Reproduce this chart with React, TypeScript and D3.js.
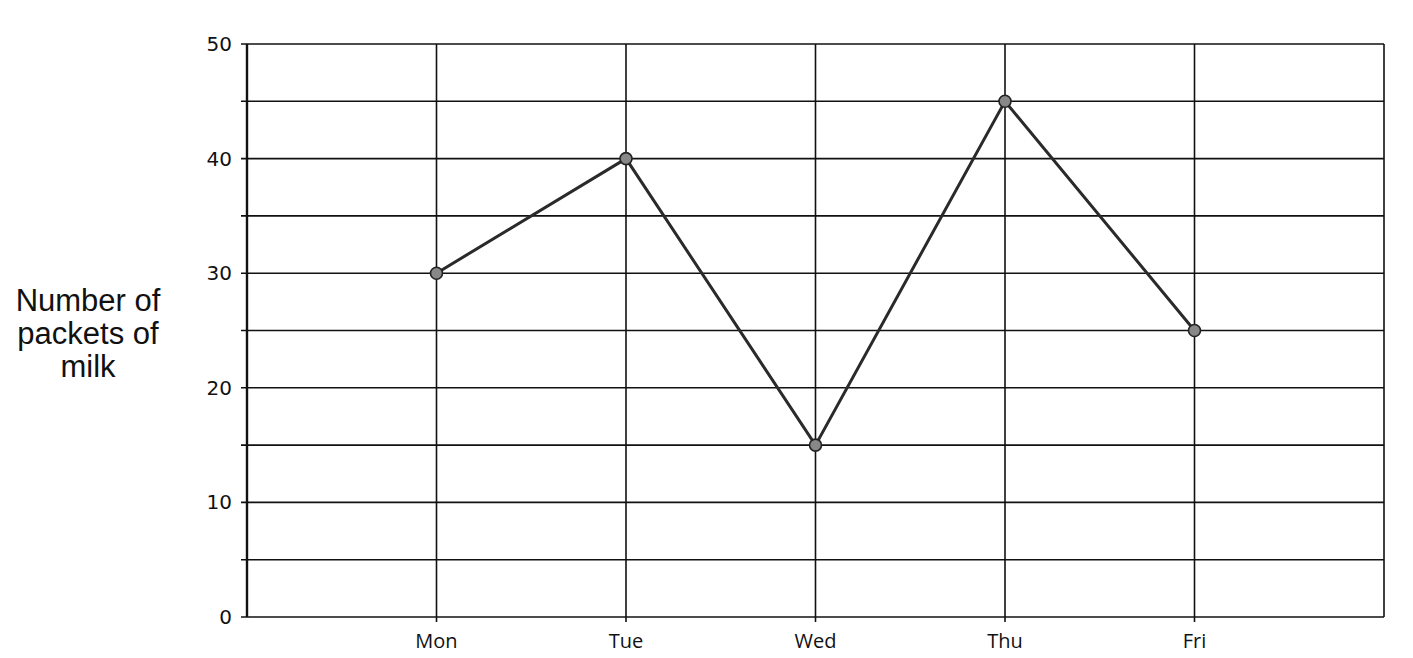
import React, { useEffect, useRef } from "react";
import * as d3 from "d3";

const days = ["Mon", "Tue", "Wed", "Thu", "Fri"];
const packets = [30, 40, 15, 45, 25];
const yTicks = [0, 10, 20, 30, 40, 50];
const titleLines = ["Number of", "packets of", "milk"];

const W = 1413;
const H = 658;
const margin = { top: 44, right: 29, bottom: 41, left: 247 };

export default function App() {
  const ref = useRef<SVGSVGElement>(null);

  useEffect(() => {
    const svg = d3.select(ref.current);
    svg.selectAll("*").remove();
    const w = W - margin.left - margin.right;
    const h = H - margin.top - margin.bottom;

    // categories sit at 1..5 on a 0..6 axis
    const x = d3.scaleLinear().domain([0, days.length + 1]).range([0, w]);
    const y = d3.scaleLinear().domain([0, 50]).range([h, 0]);

    const g = svg
      .append("g")
      .attr("transform", `translate(${margin.left},${margin.top})`);

    // horizontal gridlines every 5
    const minor = d3.range(0, 55, 5);
    g.selectAll(".hg")
      .data(minor)
      .join("line")
      .attr("x1", -6)
      .attr("x2", w)
      .attr("y1", (d) => y(d))
      .attr("y2", (d) => y(d))
      .attr("stroke", "#111")
      .attr("stroke-width", 1.6);

    // vertical lines: axis, categories, right border
    const vx = d3.range(0, days.length + 2);
    g.selectAll(".vg")
      .data(vx)
      .join("line")
      .attr("x1", (d) => x(d))
      .attr("x2", (d) => x(d))
      .attr("y1", 0)
      .attr("y2", (d) => (d >= 1 && d <= days.length ? h + 5 : h))
      .attr("stroke", "#111")
      .attr("stroke-width", (d) => (d === 0 ? 2.4 : 1.6));

    // y tick labels
    g.selectAll(".yl")
      .data(yTicks)
      .join("text")
      .attr("x", -15)
      .attr("y", (d) => y(d))
      .attr("dy", "0.35em")
      .attr("text-anchor", "end")
      .attr("font-family", "DejaVu Sans, sans-serif")
      .attr("font-size", 20)
      .attr("fill", "#111")
      .text((d) => d);

    // x labels
    g.selectAll(".xl")
      .data(days)
      .join("text")
      .attr("x", (d, i) => x(i + 1))
      .attr("y", h + 31)
      .attr("text-anchor", "middle")
      .attr("font-family", "Open Sans, sans-serif")
      .attr("font-size", 20)
      .attr("fill", "#111")
      .text((d) => d);

    // y title
    svg
      .append("text")
      .attr("text-anchor", "middle")
      .attr("font-family", "Liberation Sans, Arial, sans-serif")
      .attr("font-size", 31)
      .attr("fill", "#111")
      .selectAll("tspan")
      .data(titleLines)
      .join("tspan")
      .attr("x", 88)
      .attr("y", (d, i) => 311 + i * 33)
      .text((d) => d);

    // series line
    const line = d3
      .line<number>()
      .x((d, i) => x(i + 1))
      .y((d) => y(d));
    g.append("path")
      .datum(packets)
      .attr("d", line)
      .attr("fill", "none")
      .attr("stroke", "#2a2a2a")
      .attr("stroke-width", 3);

    g.selectAll(".pt")
      .data(packets)
      .join("circle")
      .attr("cx", (d, i) => x(i + 1))
      .attr("cy", (d) => y(d))
      .attr("r", 6)
      .attr("fill", "#888")
      .attr("stroke", "#222")
      .attr("stroke-width", 1.6);
  }, []);

  return (
    <svg
      ref={ref}
      width={W}
      height={H}
      style={{ display: "block", position: "absolute", left: 0, top: 0, background: "#fff" }}
    />
  );
}
